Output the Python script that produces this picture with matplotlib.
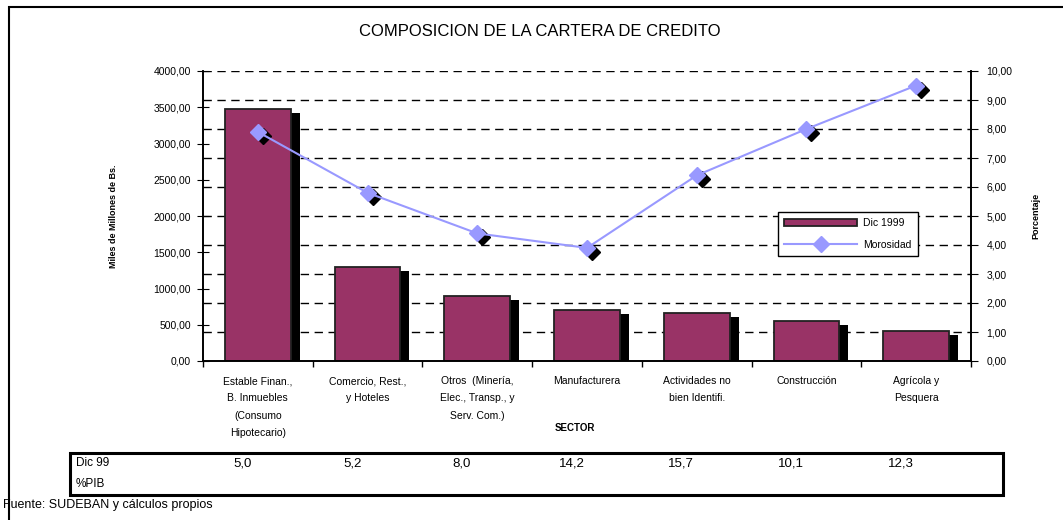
import numpy as np
import matplotlib
matplotlib.use("Agg")
import matplotlib.pyplot as plt
from matplotlib.transforms import ScaledTranslation, blended_transform_factory
from matplotlib.patches import Rectangle
from matplotlib.ticker import FuncFormatter

plt.rcParams['font.family'] = ['Liberation Sans', 'DejaVu Sans']

# data
sectores = ["Estable Finan.,\nB. Inmuebles\n(Consumo\nHipotecario)",
            "Comercio, Rest.,\ny Hoteles",
            "Otros  (Minería,\nElec., Transp., y\nServ. Com.)",
            "Manufacturera",
            "Actividades no\nbien Identifi.",
            "Construcción",
            "Agrícola y\nPesquera"]
cartera_dic1999 = [3470, 1300, 900, 710, 660, 550, 410]   # miles de millones de Bs.
morosidad = [7.9, 5.8, 4.4, 3.9, 6.4, 8.0, 9.5]             # porcentaje
pib_dic99 = ["5,0", "5,2", "8,0", "14,2", "15,7", "10,1", "12,3"]

bar_color = '#993366'
line_color = '#9999FF'

W, H = 1063, 520
fig = plt.figure(figsize=(W / 100, H / 100), dpi=100)
ax = fig.add_axes([203 / W, 1 - 361 / H, (971 - 203) / W, (361 - 71) / H])
ax2 = ax.twinx()

x = np.arange(len(sectores))

# dashed grid (right-hand scale, 10 divisions) behind the bars
for k in range(1, 11):
    ax.axhline(k * 400, color='black', lw=1, ls=(0, (6, 4)), zorder=0)

# bars with a black "3D" shadow
shadow = ax.transData + ScaledTranslation(9 / 100, -4 / 100, fig.dpi_scale_trans)
ax.bar(x, cartera_dic1999, width=0.6, color='black', transform=shadow, zorder=1)
bars = ax.bar(x, cartera_dic1999, width=0.6, color=bar_color, edgecolor='#222222',
              linewidth=1.3, zorder=2, label='Dic 1999')

# morosidad line with shadowed markers
mshadow = ax2.transData + ScaledTranslation(5 / 100, -4 / 100, fig.dpi_scale_trans)
ax2.plot(x, morosidad, ls='none', marker='D', ms=8, color='black', transform=mshadow, zorder=1)
line, = ax2.plot(x, morosidad, color=line_color, lw=1.5, marker='D', ms=8,
                 markeredgecolor=line_color, zorder=2, label='Morosidad')

ax.set_xlim(-0.5, len(sectores) - 0.5)
ax.set_ylim(0, 4000)
ax2.set_ylim(0, 10)
ax.set_yticks(np.arange(0, 4001, 500))
ax2.set_yticks(np.arange(0, 11, 1))
ax.yaxis.set_major_formatter(FuncFormatter(lambda v, p: f"{v:.2f}".replace('.', ',')))
ax2.yaxis.set_major_formatter(FuncFormatter(lambda v, p: f"{v:.2f}".replace('.', ',')))

ax.set_xticks(x)
ax.set_xticklabels(sectores, fontsize=7.5, linespacing=1.9)
ax.set_xticks(np.arange(-0.5, len(sectores)), minor=True)
ax.tick_params(axis='x', which='major', length=0, pad=11)
ax.tick_params(axis='x', which='minor', length=4, direction='out', width=1)
ax.tick_params(axis='y', direction='inout', length=9, labelsize=7.5, pad=4)
ax2.tick_params(axis='y', direction='out', length=5, labelsize=7.5, pad=6)

for a in (ax, ax2):
    a.spines['top'].set_visible(False)
    for s in ('left', 'right', 'bottom'):
        a.spines[s].set_linewidth(1.2)

# legend
ax.legend([bars, line], ['Dic 1999', 'Morosidad'], loc='upper left',
          bbox_to_anchor=(778 / W, 1 - 212 / H), bbox_transform=fig.transFigure,
          fontsize=7.5, frameon=True, fancybox=False, edgecolor='black',
          framealpha=1, handlelength=7, borderpad=0.6, labelspacing=1.1,
          handletextpad=0.6, borderaxespad=0)
ax.get_legend().get_frame().set_linewidth(1)
ax.get_legend().set_zorder(5)

# titles and labels
fig.text(540 / W, 1 - 31 / H, "COMPOSICION DE LA CARTERA DE CREDITO",
         ha='center', va='center', fontsize=12)
fig.text(114 / W, 1 - 216 / H, "Miles de Millones de Bs.", rotation=90,
         ha='center', va='center', fontsize=6.5, fontweight='bold')
fig.text(1036 / W, 1 - 216 / H, "Porcentaje", rotation=90,
         ha='center', va='center', fontsize=6.5, fontweight='bold')
fig.text(575 / W, 1 - 428 / H, "SECTOR", ha='center', va='center',
         fontsize=7, fontweight='bold')

# %PIB table under the chart
fig.patches.append(Rectangle((70 / W, 1 - 495 / H), (1003 - 70) / W, (495 - 453) / H,
                             transform=fig.transFigure, fill=False,
                             edgecolor='black', linewidth=2.2))
fig.text(76 / W, 1 - 463 / H, "Dic 99", ha='left', va='center', fontsize=8.5)
fig.text(76 / W, 1 - 484 / H, "%PIB", ha='left', va='center', fontsize=8.5)
tr = blended_transform_factory(ax.transData, fig.transFigure)
for i, v in enumerate(pib_dic99):
    fig.text(x[i] - 0.14, 1 - 463 / H, v, transform=tr, ha='center', va='center',
             fontsize=9.5)

fig.text(3 / W, 1 - 505 / H, "Fuente: SUDEBAN y cálculos propios",
         ha='left', va='center', fontsize=9)

# outer frame
fig.patches.append(Rectangle((9 / W, -0.05), 1.1, 1 - 7 / H + 0.05,
                             transform=fig.transFigure, fill=False,
                             edgecolor='black', linewidth=1.5))

fig.savefig("out.png", dpi=100)
